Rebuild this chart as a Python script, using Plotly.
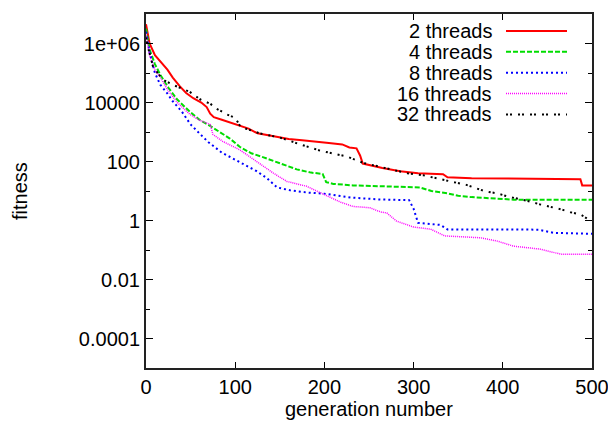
import plotly.graph_objects as go

# ---- data ----
gen_2 = [0, 4, 10, 16, 24, 30, 38, 45, 53, 62, 68, 72, 76, 85, 95, 105, 115, 125, 135, 145, 160, 175, 190, 205, 220, 228, 236, 240, 243, 252, 265, 285, 305, 333, 338, 365, 415, 487, 489, 500]
fit_2 = [4.5e6, 1.0e6, 4.0e5, 2.4e5, 1.3e5, 7.0e4, 3.5e4, 2.1e4, 1.4e4, 1.0e4, 7.0e3, 4.2e3, 3.2e3, 2.6e3, 2.1e3, 1.7e3, 1.3e3, 900, 800, 720, 575, 525, 460, 425, 380, 300, 280, 160, 85, 74, 60, 47, 40, 37, 29, 27, 26, 25, 15.5, 15.5]

gen_4 = [0, 4, 10, 16, 25, 35, 49, 60, 75, 85, 94, 105, 118, 131, 150, 169, 185, 198, 202, 210, 232, 280, 307, 320, 338, 350, 365, 412, 500]
fit_4 = [3.2e6, 6.3e5, 2.0e5, 8.7e4, 3.2e4, 1.26e4, 4.9e3, 2.6e3, 1.4e3, 890, 600, 316, 190, 141, 87, 54, 42, 38, 20, 17.4, 15.5, 14.1, 13.2, 10, 8.3, 6.9, 6.2, 5.1, 5.1]

gen_8 = [0, 4, 10, 16, 23, 30, 40, 50, 60, 70, 85, 100, 113, 124, 135, 140, 147, 162, 180, 200, 230, 260, 295, 300, 305, 330, 338, 440, 457, 500]
fit_8 = [2.5e6, 5.0e5, 1.0e5, 4.0e4, 2.2e4, 1.1e4, 5.0e3, 1.8e3, 890, 450, 200, 112, 71, 47, 28, 20, 13.2, 10.5, 8.9, 8.1, 6.0, 5.2, 4.9, 2.5, 0.83, 0.71, 0.5, 0.49, 0.38, 0.355]

gen_16 = [0, 4, 10, 16, 25, 35, 49, 60, 72, 75, 86, 105, 124, 143, 158, 180, 199, 218, 232, 251, 263, 270, 281, 300, 319, 335, 375, 394, 412, 442, 465, 500]
fit_16 = [2.0e6, 4.0e5, 1.26e5, 7.1e4, 2.5e4, 1.0e4, 4.0e3, 2.5e3, 1.8e3, 830, 480, 250, 100, 40, 21, 14.5, 7.8, 4.2, 3.0, 2.7, 1.95, 1.8, 0.95, 0.6, 0.51, 0.3, 0.26, 0.2, 0.135, 0.107, 0.072, 0.072]

gen_32 = [0, 2, 8, 19, 30, 49, 61, 72, 79, 91, 100, 106, 128, 150, 173, 195, 210, 225, 244, 270, 293, 311, 338, 360, 380, 394, 405, 416, 429, 442, 453, 465, 476, 487, 496, 500]
fit_32 = [1.6e6, 8.0e5, 1.6e5, 5.9e4, 4.0e4, 2.3e4, 1.26e4, 9.1e3, 6.2e3, 3.9e3, 3.0e3, 1.5e3, 890, 650, 380, 234, 186, 148, 89, 59, 40, 34, 23, 15.8, 9.8, 8.3, 6.6, 5.6, 4.5, 3.5, 3.0, 2.4, 1.9, 1.6, 1.1, 1.0]

series_names = ["2 threads", "4 threads", "8 threads", "16 threads", "32 threads"]
series_x = [gen_2, gen_4, gen_8, gen_16, gen_32]
series_y = [fit_2, fit_4, fit_8, fit_16, fit_32]

x_ticks = [0, 100, 200, 300, 400, 500]
y_major = [1e-4, 1e-2, 1, 1e2, 1e4, 1e6]
y_major_text = ["0.0001", "0.01", "1", "100", "10000", "1e+06"]
y_minor = [1e-5, 1e-3, 1e-1, 10, 1e3, 1e5, 1e7]

# ---- styles ----
colors = ["#ff0000", "#00dd00", "#0000ff", "#ff00ff", "#000000"]
dashes = ["solid", "5px,2px", "2px,3px", "1px,1px", "2px,2px,2px,6px"]
widths = [2, 2, 2, 1.5, 2]

# page body has an 8px margin -> shrink the figure accordingly
OFF = 8
W, H = 616 - OFF, 435 - OFF
PL, PT, PR, PB = 146, 12, 592, 368          # plot box in screen pixels
L, T = PL - OFF, PT - OFF
R, B = (W + OFF) - PR, (H + OFF) - PB
pw, ph = PR - PL, PB - PT


def px_x(px):
    return (px - PL) / pw


def px_y(py):
    return (PB - py) / ph


FONT = "Liberation Sans, Arial, Helvetica, sans-serif"

fig = go.Figure()
for name, xs, ys, c, d, w in zip(series_names, series_x, series_y, colors, dashes, widths):
    fig.add_trace(go.Scatter(x=xs, y=ys, mode="lines", name=name,
                             line=dict(color=c, dash=d, width=w), showlegend=False))

# manual gnuplot-style legend (text right, sample line to the right)
row0, row_step = 29, 21
for i, (name, c, d, w) in enumerate(zip(series_names, colors, dashes, widths)):
    yp = px_y(row0 + i * row_step)
    fig.add_annotation(xref="paper", yref="paper", x=px_x(494), y=yp,
                       text=name, showarrow=False, xanchor="right", yanchor="middle",
                       font=dict(size=20, color="black", family=FONT))
    fig.add_shape(type="line", xref="paper", yref="paper",
                  x0=px_x(506), x1=px_x(567), y0=yp, y1=yp,
                  line=dict(color=c, dash=d, width=w))

# axis titles
fig.add_annotation(xref="paper", yref="paper", x=px_x(20), y=0.5,
                   text="fitness", showarrow=False, textangle=-90,
                   xanchor="center", yanchor="middle",
                   font=dict(size=20, color="black", family=FONT))
fig.add_annotation(xref="paper", yref="paper", x=px_x(369), y=px_y(409),
                   text="generation number", showarrow=False,
                   xanchor="center", yanchor="middle",
                   font=dict(size=20, color="black", family=FONT))

fig.update_layout(
    width=W, height=H,
    margin=dict(l=L, r=R, t=T, b=B),
    paper_bgcolor="white", plot_bgcolor="white",
    font=dict(family=FONT, size=20, color="black"),
    showlegend=False,
)
fig.update_xaxes(range=[0, 500], tickvals=x_ticks, ticks="inside", ticklen=6,
                 tickwidth=1, tickcolor="black", showline=True, linecolor="#222222",
                 linewidth=2, mirror="ticks", showgrid=False, zeroline=False,
                 tickfont=dict(size=20, family=FONT, color="black"))
fig.update_yaxes(type="log", range=[-5, 7], tickvals=y_major, ticktext=y_major_text,
                 ticks="inside", ticklen=7, tickwidth=1, tickcolor="black",
                 minor=dict(tickvals=y_minor, ticks="inside", ticklen=4, tickcolor="black", showgrid=False),
                 showline=True, linecolor="#222222", linewidth=2, mirror="ticks",
                 showgrid=False, zeroline=False,
                 tickfont=dict(size=20, family=FONT, color="black"))

fig.write_html("out.html")
